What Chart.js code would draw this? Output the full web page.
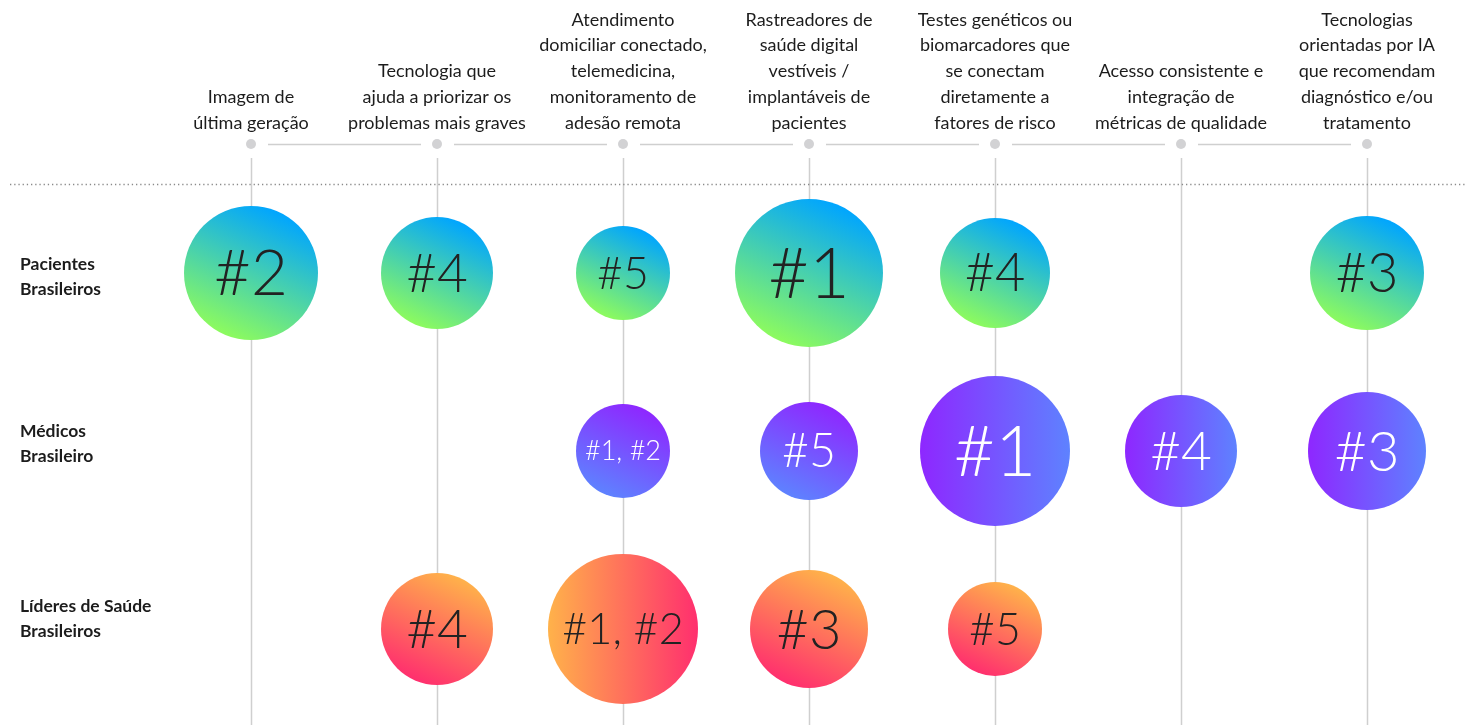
<!DOCTYPE html>
<html>
<head>
<meta charset="utf-8">
<script src="https://cdn.jsdelivr.net/npm/chart.js@4"></script>
<style>
    html, body { margin: 0; padding: 0; background: #fff; }
    #wrap { width: 1467px; height: 725px; position: relative; }
</style>
</head>
<body>
<div id="wrap"><canvas id="rankChart"></canvas></div>
<script>
// column headers (one entry per technology, split in lines)
const columnLabels = [
    ['Imagem de', 'última geração'],
    ['Tecnologia que', 'ajuda a priorizar os', 'problemas mais graves'],
    ['Atendimento', 'domiciliar conectado,', 'telemedicina,', 'monitoramento de', 'adesão remota'],
    ['Rastreadores de', 'saúde digital', 'vestíveis /', 'implantáveis de', 'pacientes'],
    ['Testes genéticos ou', 'biomarcadores que', 'se conectam', 'diretamente a', 'fatores de risco'],
    ['Acesso consistente e', 'integração de', 'métricas de qualidade'],
    ['Tecnologias', 'orientadas por IA', 'que recomendam', 'diagnóstico e/ou', 'tratamento']
];

const rowLabels = [
    ['Pacientes', 'Brasileiros'],
    ['Médicos', 'Brasileiro'],
    ['Líderes de Saúde', 'Brasileiros']
];

// ranks shown in the bubbles, null = no bubble
const pacientesRank = ['#2', '#4', '#5', '#1', '#4', null, '#3'];
const medicosRank = [null, null, '#1, #2', '#5', '#1', '#4', '#3'];
const lideresRank = [null, '#4', '#1, #2', '#3', '#5', null, null];

// bubble radius
const pacientesSize = [67, 56, 47, 74, 55, null, 57];
const medicosSize = [null, null, 47, 49, 75, 56, 59];
const lideresSize = [null, 56, 75, 59, 47, null, null];

// colours: [bottom-left, top-right]
const rowColors = [['#8dfb5e', '#00a5ff'], ['#5e82ff', '#8e27ff'], ['#ff2f6e', '#ffb24a']];
const rowTextColor = ['#222222', '#ffffff', '#222222'];
// bubbles whose gradient runs left -> right instead of diagonal
const horizontalFill = [[], [4, 5, 6], [2]];
// row label nudge (px) relative to the row centre
const rowLabelShift = [4, -7, -10];

function buildPoints(ranks, sizes, rowIndex) {
    const pts = [];
    ranks.forEach((rank, i) => {
        if (rank === null) return;
        pts.push({ x: i, y: rowIndex, r: sizes[i], rank: rank });
    });
    return pts;
}

function bubbleFill(rowIndex) {
    return (ctx) => {
        const chart = ctx.chart;
        const raw = ctx.raw;
        if (!chart.chartArea || !raw || !chart.scales.x) return rowColors[rowIndex][1];
        const cx = chart.scales.x.getPixelForValue(raw.x);
        const cy = chart.scales.y.getPixelForValue(raw.y);
        const r = raw.r;
        let ux = 0.42, uy = -0.91;
        if (horizontalFill[rowIndex].includes(raw.x)) { ux = -1; uy = 0; }
        const g = chart.ctx.createLinearGradient(cx - ux * r, cy - uy * r, cx + ux * r, cy + uy * r);
        g.addColorStop(0, rowColors[rowIndex][0]);
        g.addColorStop(1, rowColors[rowIndex][1]);
        return g;
    };
}

const decorPlugin = {
    id: 'decor',
    beforeDatasetsDraw(chart) {
        const c = chart.ctx;
        const xs = chart.scales.x;
        const lineY = 144;
        c.save();
        // vertical guide lines
        c.strokeStyle = '#cfcfcf';
        c.lineWidth = 1.5;
        columnLabels.forEach((_, i) => {
            const x = Math.round(xs.getPixelForValue(i)) + 0.5;
            c.beginPath();
            c.moveTo(x, 158);
            c.lineTo(x, chart.height);
            c.stroke();
        });
        // horizontal line between dots
        for (let i = 0; i < columnLabels.length - 1; i++) {
            const x1 = xs.getPixelForValue(i) + 17;
            const x2 = xs.getPixelForValue(i + 1) - 16;
            c.beginPath();
            c.moveTo(x1, lineY + 0.5);
            c.lineTo(x2, lineY + 0.5);
            c.stroke();
        }
        // header dots
        c.fillStyle = '#d2d2d4';
        columnLabels.forEach((_, i) => {
            c.beginPath();
            c.arc(xs.getPixelForValue(i), lineY, 5, 0, Math.PI * 2);
            c.fill();
        });
        // dotted separator
        c.strokeStyle = '#8a8a8a';
        c.lineWidth = 1.3;
        c.setLineDash([1.3, 2.9]);
        c.beginPath();
        c.moveTo(10, 184.5);
        c.lineTo(chart.width, 184.5);
        c.stroke();
        c.setLineDash([]);

        // header texts
        c.fillStyle = '#1c1c1c';
        c.font = '18px Lato, "Open Sans", sans-serif';
        c.textAlign = 'center';
        c.textBaseline = 'middle';
        columnLabels.forEach((lines, i) => {
            const x = xs.getPixelForValue(i);
            lines.forEach((line, k) => {
                const y = 123 - (lines.length - 1 - k) * 25.8;
                c.fillText(line, x, y);
            });
        });

        // row labels
        c.font = 'bold 17.5px Lato, "Open Sans", sans-serif';
        c.textAlign = 'left';
        rowLabels.forEach((lines, j) => {
            const y = chart.scales.y.getPixelForValue(j) + rowLabelShift[j];
            lines.forEach((line, k) => {
                c.fillText(line, 20, y - 12.5 + k * 25);
            });
        });
        c.restore();
    },
    afterDatasetsDraw(chart) {
        const c = chart.ctx;
        c.save();
        c.textAlign = 'center';
        c.textBaseline = 'middle';
        chart.data.datasets.forEach((ds, j) => {
            const meta = chart.getDatasetMeta(j);
            meta.data.forEach((el, k) => {
                const p = ds.data[k];
                let size = p.r * 0.95;
                c.font = '300 ' + size + 'px Lato, "Open Sans", sans-serif';
                const w = c.measureText(p.rank).width;
                if (w > p.r * 1.62) {
                    size = size * p.r * 1.62 / w;
                    c.font = '300 ' + size + 'px Lato, "Open Sans", sans-serif';
                }
                c.fillStyle = rowTextColor[j];
                c.fillText(p.rank, el.x, el.y + size * 0.03);
            });
        });
        c.restore();
    }
};

const chart = new Chart(document.getElementById('rankChart').getContext('2d'), {
    type: 'bubble',
    data: {
        datasets: [
            { label: 'Pacientes Brasileiros', data: buildPoints(pacientesRank, pacientesSize, 0), backgroundColor: bubbleFill(0) },
            { label: 'Médicos Brasileiro', data: buildPoints(medicosRank, medicosSize, 1), backgroundColor: bubbleFill(1) },
            { label: 'Líderes de Saúde Brasileiros', data: buildPoints(lideresRank, lideresSize, 2), backgroundColor: bubbleFill(2) }
        ]
    },
    options: {
        responsive: true,
        maintainAspectRatio: false,
        animation: false,
        clip: false,
        layout: { autoPadding: false, padding: { left: 158, right: 7, top: 184, bottom: 0 } },
        elements: { point: { borderWidth: 0, hoverBorderWidth: 0 } },
        scales: {
            x: { type: 'linear', min: -0.5, max: 6.5, display: false },
            y: { type: 'linear', min: -0.5, max: 2.54, reverse: true, display: false }
        },
        plugins: {
            legend: { display: false },
            tooltip: { enabled: false }
        }
    },
    plugins: [decorPlugin]
});
</script>
</body>
</html>
